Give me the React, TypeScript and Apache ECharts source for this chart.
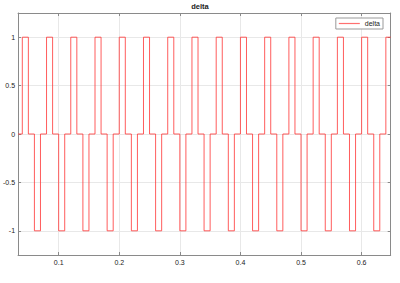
import React, { useEffect, useRef } from "react";
import * as echarts from "echarts";

const time: number[] = [
  0.033,
  0.04, 0.05, 0.06, 0.07, 0.08, 0.09, 0.10, 0.11, 0.12, 0.13,
  0.14, 0.15, 0.16, 0.17, 0.18, 0.19, 0.20, 0.21, 0.22, 0.23,
  0.24, 0.25, 0.26, 0.27, 0.28, 0.29, 0.30, 0.31, 0.32, 0.33,
  0.34, 0.35, 0.36, 0.37, 0.38, 0.39, 0.40, 0.41, 0.42, 0.43,
  0.44, 0.45, 0.46, 0.47, 0.48, 0.49, 0.50, 0.51, 0.52, 0.53,
  0.54, 0.55, 0.56, 0.57, 0.58, 0.59, 0.60, 0.61, 0.62, 0.63,
  0.64, 0.648,
];

const delta: number[] = [
  0,
  1, 0, -1, 0, 1, 0, -1, 0, 1, 0,
  -1, 0, 1, 0, -1, 0, 1, 0, -1, 0,
  1, 0, -1, 0, 1, 0, -1, 0, 1, 0,
  -1, 0, 1, 0, -1, 0, 1, 0, -1, 0,
  1, 0, -1, 0, 1, 0, -1, 0, 1, 0,
  -1, 0, 1, 0, -1, 0, 1, 0, -1, 0,
  1, 1,
];

const X_MIN = 0.033;
const X_MAX = 0.648;
const Y_MIN = -1.25;
const Y_MAX = 1.25;

const FONT = "'Liberation Sans', Arial, Helvetica, sans-serif";
const AXIS_COLOR = "#8a8a8a";
const GRID_COLOR = "#e8e8e8";
const LINE_COLOR = "#ff3333";

export default function App() {
  const ref = useRef<HTMLDivElement>(null);
  useEffect(() => {
    document.body.style.margin = "0";
    if (!ref.current) return;
    const chart = echarts.init(ref.current, null, { renderer: "svg" });
    const data = time.map((t, i) => [t, delta[i]]);
    const baseX = {
      type: "value" as const,
      min: X_MIN,
      max: X_MAX,
      splitNumber: 6,
      axisLine: { show: true, onZero: false, lineStyle: { color: AXIS_COLOR, width: 1 } },
      axisTick: { show: true, inside: true, length: 3, lineStyle: { color: AXIS_COLOR } },
    };
    const baseY = {
      type: "value" as const,
      min: Y_MIN,
      max: Y_MAX,
      splitNumber: 5,
      axisLine: { show: true, onZero: false, lineStyle: { color: AXIS_COLOR, width: 1 } },
      axisTick: { show: true, inside: true, length: 3, lineStyle: { color: AXIS_COLOR } },
    };
    chart.setOption({
      animation: false,
      backgroundColor: "#ffffff",
      title: {
        text: "delta",
        left: "center",
        top: 2,
        padding: 0,
        textStyle: { fontSize: 7.5, fontWeight: "bold", color: "#222", fontFamily: FONT },
      },
      legend: {
        right: 17,
        top: 18,
        padding: [2, 3],
        itemWidth: 21,
        itemHeight: 1.2,
        icon: "rect",
        borderColor: "#999",
        borderWidth: 1,
        borderRadius: 0,
        backgroundColor: "#fff",
        itemStyle: { color: "#ff7070" },
        textStyle: { fontSize: 7, color: "#222", fontFamily: FONT },
        data: ["delta"],
      },
      grid: { left: 17, right: 9.3, top: 13, bottom: 28, containLabel: false },
      xAxis: [
        {
          ...baseX,
          position: "bottom",
          splitLine: { show: true, lineStyle: { color: GRID_COLOR, width: 1 } },
          axisLabel: {
            show: true,
            showMinLabel: false,
            showMaxLabel: false,
            fontSize: 7,
            color: "#222",
            margin: 4,
            fontFamily: FONT,
          },
        },
        {
          ...baseX,
          position: "top",
          splitLine: { show: false },
          axisLabel: { show: false },
        },
      ],
      yAxis: [
        {
          ...baseY,
          position: "left",
          splitLine: { show: true, lineStyle: { color: GRID_COLOR, width: 1 } },
          axisLabel: {
            show: true,
            showMinLabel: false,
            showMaxLabel: false,
            fontSize: 7,
            color: "#222",
            margin: 3,
            fontFamily: FONT,
          },
        },
        {
          ...baseY,
          position: "right",
          splitLine: { show: false },
          axisLabel: { show: false },
        },
      ],
      series: [
        {
          name: "delta",
          type: "line",
          step: "end",
          xAxisIndex: 0,
          yAxisIndex: 0,
          data,
          symbol: "none",
          lineStyle: { color: LINE_COLOR, width: 0.8 },
          itemStyle: { color: LINE_COLOR },
        },
      ],
    });
    return () => chart.dispose();
  }, []);
  return <div ref={ref} style={{ width: 400, height: 283 }} />;
}
